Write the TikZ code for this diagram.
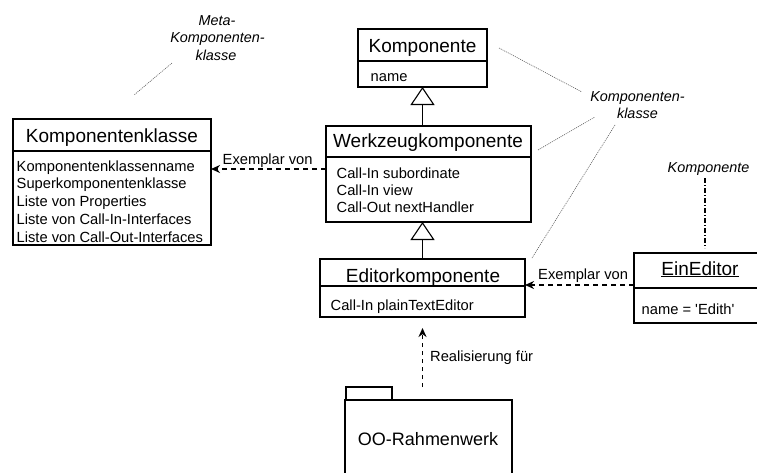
\documentclass[tikz,border=0pt]{standalone}
\usepackage{fontspec}
\setmainfont{Liberation Sans}
\usetikzlibrary{arrows.meta}

\begin{document}
\begin{tikzpicture}[
  x=1pt, y=-1pt,
  classbox/.style={draw, line width=1.1pt, inner sep=0pt, outer sep=0pt, fill=white},
  title/.style={font=\fontsize{19}{22}\selectfont, inner sep=0pt, anchor=base},
  attr/.style={font=\fontsize{14.7}{17.5}\selectfont, inner sep=0pt, anchor=base west},
  note/.style={font=\fontsize{14.4}{17.5}\selectfont\itshape, inner sep=0pt, anchor=base},
  lbl/.style={font=\fontsize{14.7}{17.5}\selectfont, inner sep=0pt},
  gen/.style={line width=1.1pt, -{Triangle[open, length=18pt, width=24pt, fill=white]}},
  dep/.style={line width=1.6pt, dash pattern=on 5pt off 4pt, -{Stealth[length=9pt, width=8pt]}},
  hint/.style={line width=0.6pt, gray!70!black, dash pattern=on 1pt off 1pt},
  hintbold/.style={line width=2pt, dash pattern=on 5pt off 2pt on 1pt off 2pt},
]
\useasboundingbox (0,0) rectangle (757,472);
\clip (0,0) rectangle (757,472);

% ---- class boxes ----
\node[classbox, minimum width=198pt, minimum height=126pt] (kk) at (112,182) {};
\node[classbox, minimum width=129pt, minimum height=58pt]  (ko) at (422.5,58) {};
\node[classbox, minimum width=205pt, minimum height=96pt]  (wz) at (428.5,174) {};
\node[classbox, minimum width=205pt, minimum height=58pt]  (ed) at (422.5,288) {};
\node[classbox, minimum width=136pt, minimum height=70pt]  (ee) at (702,288) {};

% header dividers
\draw[line width=1.1pt] ([yshift=-32pt]kk.north west) -- ([yshift=-32pt]kk.north east);
\draw[line width=1.1pt] ([yshift=-32pt]ko.north west) -- ([yshift=-32pt]ko.north east);
\draw[line width=1.1pt] ([yshift=-31pt]wz.north west) -- ([yshift=-31pt]wz.north east);
\draw[line width=1.1pt] ([yshift=-27pt]ed.north west) -- ([yshift=-27pt]ed.north east);
\draw[line width=1.1pt] ([yshift=-35pt]ee.north west) -- ([yshift=-35pt]ee.north east);

% titles
\node[title] (kkT) at (112,142.5) {Komponentenklasse};
\node[title] (koT) at (422.5,52) {Komponente};
\node[title] (wzT) at (428,147.5) {Werkzeugkomponente};
\node[title] (edT) at (423,282) {Editorkomponente};
\node[title] (eeT) at (700,275) {\underline{EinEditor}};

% attributes
\foreach [count=\i] \t in {Komponentenklassenname, Superkomponentenklasse,
    Liste von Properties, Liste von Call-In-Interfaces, Liste von Call-Out-Interfaces}
  \node[attr] (kkA\i) at (16.5,{171+17.9*(\i-1)}) {\t};
\node[attr] (koA1) at (370.5,81.5) {name};
\foreach [count=\i] \t in {Call-In subordinate, Call-In view, Call-Out nextHandler}
  \node[attr] (wzA\i) at (336.5,{178.5+17*(\i-1)}) {\t};
\node[attr] (edA1) at (330.5,310.5) {Call-In plainTextEditor};
\node[attr] (eeA1) at (641.5,314) {name = \textquotesingle Edith\textquotesingle};

% ---- package ----
\node[classbox, minimum width=46pt, minimum height=13pt] (pkTab) at (369,393.5) {};
\node[classbox, minimum width=167pt, minimum height=90pt] (pk) at (428.5,445) {};
\node[title, font=\fontsize{18}{21}\selectfont] (pkT) at (428,445) {OO-Rahmenwerk};

% ---- generalizations ----
\draw[gen] (ko.south |- wz.north) -- (ko.south);
\draw[gen] (ed.north) -- (ed.north |- wz.south);

% ---- dependencies ----
\coordinate (d1) at ([yshift=5pt]wz.west);
\draw[dep] (d1) -- (d1 -| kk.east);
\node[lbl, anchor=base west] (d1L) at (222.5,164) {Exemplar von};

\coordinate (d2) at ([yshift=3pt]ee.west);
\draw[dep] (d2) -- (d2 -| ed.east);
\node[lbl, anchor=base west] (d2L) at (538,279) {Exemplar von};

\coordinate (d3s) at (ed.south |- pkTab.north);
\coordinate (d3e) at ([yshift=-11pt]ed.south);
\draw[dep, line width=1.4pt, dash pattern=on 4pt off 4pt] (d3s) -- (d3e);
\node[lbl, anchor=base west] (d3L) at (430,361) {Realisierung für};

% ---- annotations ----
\node[note] (n1a) at (217,25) {Meta-};
\node[note] (n1b) at (217.5,42.5) {Komponenten-};
\node[note] (n1c) at (216,60) {klasse};
\coordinate (h1a) at (172,63);
\coordinate (h1b) at (134,95);
\draw[hint] (h1a) -- (h1b);

\node[note] (n2a) at (637.5,101) {Komponenten-};
\node[note] (n2b) at (637.5,118.5) {klasse};
\coordinate (h2a) at (499,48);
\coordinate (h2b) at (582,92);
\draw[hint] (h2a) -- (h2b);
\coordinate (h3a) at (538,150);
\coordinate (h3b) at (595,117);
\draw[hint] (h3a) -- (h3b);
\coordinate (h4a) at (615,125);
\coordinate (h4b) at (532,258);
\draw[hint] (h4a) -- (h4b);

\node[note] (n3) at (708.5,172) {Komponente};
\coordinate (h5a) at (704.5,178);
\coordinate (h5b) at (704.5,248);
\draw[hintbold] (h5a) -- (h5b);
\end{tikzpicture}
\end{document}
